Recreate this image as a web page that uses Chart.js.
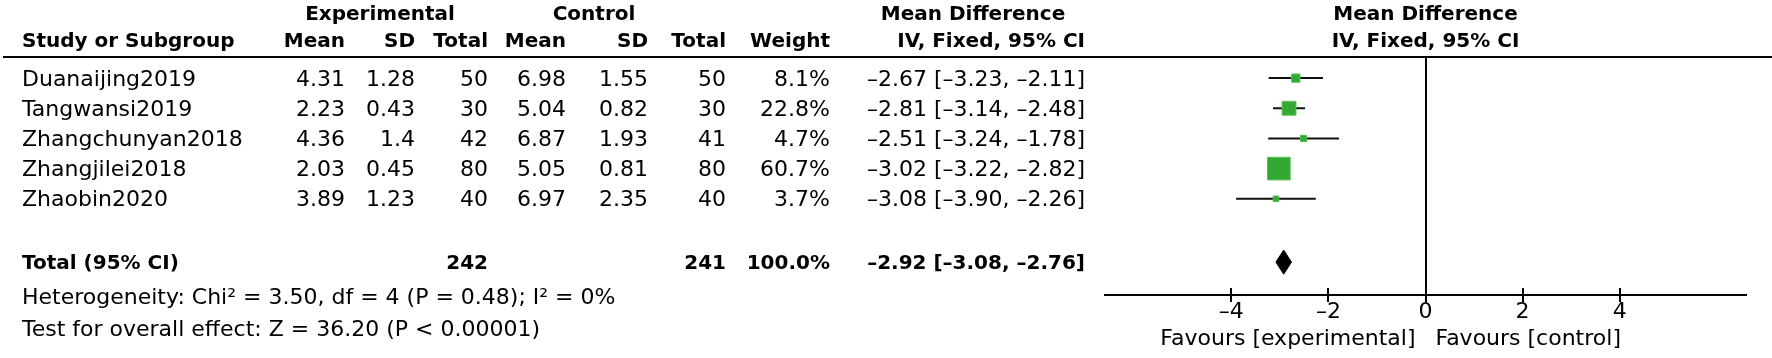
<!DOCTYPE html>
<html>
<head>
<meta charset="utf-8">
<script src="https://cdn.jsdelivr.net/npm/chart.js@4.4.1/dist/chart.umd.min.js"></script>
<style>
  html, body { margin: 0; padding: 0; background: #fff; }
</style>
</head>
<body>
<canvas id="forest" width="1772" height="358"></canvas>
<script>
// study rows
const studies = ['Duanaijing2019', 'Tangwansi2019', 'Zhangchunyan2018', 'Zhangjilei2018', 'Zhaobin2020'];
const expMean = [4.31, 2.23, 4.36, 2.03, 3.89];
const expSD = [1.28, 0.43, 1.4, 0.45, 1.23];
const expTotal = [50, 30, 42, 80, 40];
const ctrlMean = [6.98, 5.04, 6.87, 5.05, 6.97];
const ctrlSD = [1.55, 0.82, 1.93, 0.81, 2.35];
const ctrlTotal = [50, 30, 41, 80, 40];
const weights = [8.1, 22.8, 4.7, 60.7, 3.7];
const meanDiff = [-2.67, -2.81, -2.51, -3.02, -3.08];
const ciLow = [-3.23, -3.14, -3.24, -3.22, -3.90];
const ciHigh = [-2.11, -2.48, -1.78, -2.82, -2.26];

// pooled result
const totalExp = 242;
const totalCtrl = 241;
const totalWeight = 100.0;
const totalMD = [-2.92, -3.08, -2.76]; // estimate, low, high
const heterogeneity = [3.50, 4, 0.48, 0]; // Chi2, df, P, I2
const overallEffect = ['36.20', '< 0.00001']; // Z, P

const xTicks = [-4, -2, 0, 2, 4];
const totalRow = 6.1;

const FONT = '"DejaVu Sans", sans-serif';
const dash = v => (v < 0 ? '\u2013' : '') + Math.abs(v).toFixed(2);
const ciText = (m, lo, hi) => `${dash(m)} [${dash(lo)}, ${dash(hi)}]`;

function txt(ctx, s, x, y, align, bold) {
    ctx.font = bold ? 'bold 20px ' + FONT : '22px ' + FONT;
    ctx.textAlign = align;
    ctx.textBaseline = 'middle';
    ctx.fillStyle = '#000';
    ctx.fillText(s, x, y);
}

// table text, header rule, axis tick marks
const tablePlugin = {
    id: 'table',
    afterDraw(chart) {
        const ctx = chart.ctx;
        const xs = chart.scales.x;
        const ys = chart.scales.y;
        const area = chart.chartArea;
        const zeroX = xs.getPixelForValue(0);

        ctx.save();
        // header rule
        ctx.strokeStyle = '#000';
        ctx.lineWidth = 2;
        ctx.beginPath();
        ctx.moveTo(3, area.top);
        ctx.lineTo(1772, area.top);
        ctx.stroke();

        // tick marks crossing the axis
        xs.ticks.forEach(t => {
            const px = Math.round(xs.getPixelForValue(t.value));
            ctx.beginPath();
            ctx.moveTo(px, area.bottom - 7);
            ctx.lineTo(px, area.bottom + 7);
            ctx.stroke();
        });

        // headers
        txt(ctx, 'Experimental', 380, 15, 'center', true);
        txt(ctx, 'Control', 594, 15, 'center', true);
        txt(ctx, 'Mean Difference', 973, 15, 'center', true);
        txt(ctx, 'Mean Difference', zeroX, 15, 'center', true);
        txt(ctx, 'Study or Subgroup', 22, 42, 'left', true);
        txt(ctx, 'Mean', 345, 42, 'right', true);
        txt(ctx, 'SD', 415, 42, 'right', true);
        txt(ctx, 'Total', 488, 42, 'right', true);
        txt(ctx, 'Mean', 566, 42, 'right', true);
        txt(ctx, 'SD', 648, 42, 'right', true);
        txt(ctx, 'Total', 726, 42, 'right', true);
        txt(ctx, 'Weight', 830, 42, 'right', true);
        txt(ctx, 'IV, Fixed, 95% CI', 1085, 42, 'right', true);
        txt(ctx, 'IV, Fixed, 95% CI', zeroX, 42, 'center', true);

        // study rows
        studies.forEach((name, i) => {
            const y = ys.getPixelForValue(i) + 2;
            txt(ctx, name, 22, y, 'left');
            txt(ctx, String(expMean[i]), 345, y, 'right');
            txt(ctx, String(expSD[i]), 415, y, 'right');
            txt(ctx, String(expTotal[i]), 488, y, 'right');
            txt(ctx, String(ctrlMean[i]), 566, y, 'right');
            txt(ctx, String(ctrlSD[i]), 648, y, 'right');
            txt(ctx, String(ctrlTotal[i]), 726, y, 'right');
            txt(ctx, weights[i].toFixed(1) + '%', 830, y, 'right');
            txt(ctx, ciText(meanDiff[i], ciLow[i], ciHigh[i]), 1085, y, 'right');
        });

        // total row
        const ty = ys.getPixelForValue(totalRow) + 2;
        txt(ctx, 'Total (95% CI)', 22, ty, 'left', true);
        txt(ctx, String(totalExp), 488, ty, 'right', true);
        txt(ctx, String(totalCtrl), 726, ty, 'right', true);
        txt(ctx, totalWeight.toFixed(1) + '%', 830, ty, 'right', true);
        txt(ctx, ciText(totalMD[0], totalMD[1], totalMD[2]), 1085, ty, 'right', true);

        // footnotes
        const [chi2, df, p, i2] = heterogeneity;
        txt(ctx, `Heterogeneity: Chi\u00b2 = ${chi2.toFixed(2)}, df = ${df} (P = ${p.toFixed(2)}); I\u00b2 = ${i2}%`, 22, 298, 'left');
        txt(ctx, `Test for overall effect: Z = ${overallEffect[0]} (P ${overallEffect[1]})`, 22, 330, 'left');

        // favours labels
        txt(ctx, 'Favours [experimental]', zeroX - 10, 339, 'right');
        txt(ctx, 'Favours [control]', zeroX + 10, 339, 'left');
        ctx.restore();
    }
};

const ciLines = studies.map((s, i) => ({
    label: s,
    data: [{x: ciLow[i], y: i}, {x: ciHigh[i], y: i}],
    showLine: true,
    borderColor: '#111',
    borderWidth: 2,
    pointRadius: 0,
    order: 2
}));

const squares = {
    label: 'weight',
    data: meanDiff.map((m, i) => ({x: m, y: i})),
    pointStyle: 'rect',
    pointRadius: weights.map(w => 16 * Math.sqrt(w / 60.7)),
    backgroundColor: '#33a833',
    borderColor: '#55c055',
    borderWidth: 1,
    order: 0
};

const dh = 0.4; // diamond half height in rows
const diamond = {
    label: 'total',
    data: [
        {x: totalMD[1], y: totalRow},
        {x: totalMD[0], y: totalRow - dh},
        {x: totalMD[2], y: totalRow},
        {x: totalMD[0], y: totalRow + dh},
        {x: totalMD[1], y: totalRow}
    ],
    showLine: true,
    fill: 'shape',
    backgroundColor: '#000',
    borderColor: '#000',
    borderWidth: 1,
    pointRadius: 0,
    tension: 0,
    order: 1
};

new Chart(document.getElementById('forest'), {
    type: 'scatter',
    data: { datasets: [squares, diamond, ...ciLines] },
    options: {
        responsive: false,
        animation: false,
        layout: { padding: { left: 1105, right: 26, top: 57, bottom: 0 } },
        plugins: { legend: { display: false }, tooltip: { enabled: false } },
        scales: {
            x: {
                type: 'linear',
                min: -6.6,
                max: 6.6,
                afterBuildTicks: scale => { scale.ticks = xTicks.map(v => ({value: v})); },
                afterFit: scale => { scale.height = 63; },
                border: { display: true, color: '#000', width: 2 },
                grid: {
                    drawTicks: false,
                    color: c => (c.tick && c.tick.value === 0 ? '#000' : 'rgba(0,0,0,0)'),
                    lineWidth: 2
                },
                ticks: {
                    padding: 4,
                    color: '#000',
                    font: { family: FONT, size: 22 },
                    callback: v => (v < 0 ? '\u2013' + Math.abs(v) : String(v))
                }
            },
            y: {
                type: 'linear',
                display: false,
                reverse: true,
                min: -0.7,
                max: 7.19
            }
        }
    },
    plugins: [tablePlugin]
});
</script>
</body>
</html>
